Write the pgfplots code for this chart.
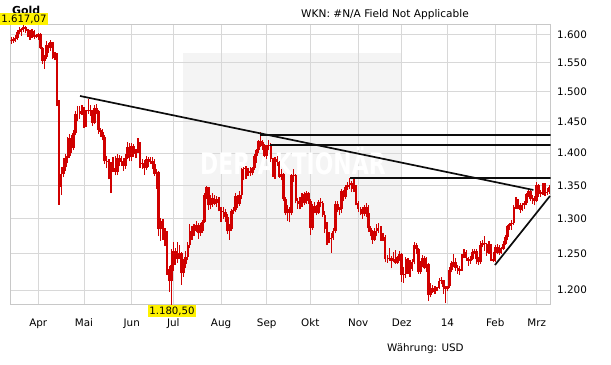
\documentclass[border=0pt]{standalone}
\usepackage{pgfplots}
\usepackage{pgfplotstable}
\pgfplotsset{compat=1.18}
\usepackage{fontspec}
\setmainfont{DejaVu Sans}
\definecolor{cred}{HTML}{D00000}
\definecolor{gridc}{HTML}{D8D8D8}
\definecolor{framec}{HTML}{C8C8C8}
\definecolor{wmbox}{HTML}{F4F4F4}
\pgfplotstableread{
i o h l c
-13 1590 1596 1583 1588
-12 1588 1596 1585 1591
-11 1591 1598 1586 1593
-10 1593 1607 1590 1604
-9 1604 1613 1600 1608
-8 1608 1612 1597 1609
-7 1609 1617.07 1605 1614
-6 1614 1615 1603 1606
-5 1606 1609 1596 1605
-4 1605 1608 1590 1596
-3 1596 1609 1594 1606
-2 1606 1607 1591 1596
-1 1596 1600 1594 1598
0 1598 1603 1590 1600
1 1600 1602 1573 1575
2 1575 1577 1548 1553
3 1553 1564 1539 1559
4 1559 1588 1557 1581
5 1581 1584 1567 1575
6 1575 1589 1570 1586
7 1586 1587 1556 1558
8 1558 1568 1555 1564
9 1564 1566 1476 1482
10 1482 1486 1321 1348
11 1348 1378 1335 1368
12 1368 1392 1362 1378
13 1378 1398 1372 1392
14 1392 1425 1384 1395
15 1395 1431 1392 1424
16 1424 1428 1400 1408
17 1408 1437 1404 1432
18 1432 1467 1428 1462
19 1462 1476 1452 1462
20 1462 1476 1455 1468
21 1468 1477 1461 1472
22 1472 1474 1440 1445
23 1445 1470 1442 1467
24 1467 1487 1463 1470
25 1470 1477 1460 1467
26 1467 1469 1443 1448
27 1448 1477 1446 1473
28 1473 1479 1462 1468
29 1468 1470 1431 1437
30 1437 1440 1426 1434
31 1434 1438 1420 1425
32 1425 1429 1383 1387
33 1387 1396 1376 1386
34 1386 1390 1359 1366
35 1366 1386 1338 1383
36 1383 1394 1370 1377
37 1377 1395 1365 1371
38 1371 1398 1366 1392
39 1392 1397 1379 1386
40 1386 1395 1380 1388
41 1388 1392 1372 1380
42 1380 1398 1375 1392
43 1392 1418 1390 1410
44 1410 1416 1387 1393
45 1393 1416 1387 1411
46 1411 1414 1394 1398
47 1398 1407 1392 1403
48 1403 1423 1400 1413
49 1413 1417 1377 1383
50 1383 1390 1375 1384
51 1384 1389 1366 1377
52 1377 1396 1374 1391
53 1391 1394 1378 1387
54 1387 1394 1383 1388
55 1388 1393 1375 1383
56 1383 1390 1364 1368
57 1368 1375 1345 1370
58 1370 1372 1275 1285
59 1285 1301 1268 1297
60 1297 1300 1270 1277
61 1277 1286 1261 1278
62 1278 1282 1221 1229
63 1229 1233 1197 1212
64 1212 1257 1180.5 1234
65 1234 1267 1226 1254
66 1254 1258 1234 1243
67 1243 1266 1237 1250
68 1250 1262 1243 1251
69 1251 1253 1207 1223
70 1223 1242 1218 1236
71 1236 1254 1230 1246
72 1246 1266 1241 1262
73 1262 1292 1258 1283
74 1283 1289 1270 1278
75 1278 1293 1275 1283
76 1283 1297 1281 1291
77 1291 1294 1271 1279
78 1279 1294 1275 1283
79 1283 1298 1280 1295
80 1295 1338 1294 1335
81 1335 1349 1330 1347
82 1347 1348 1313 1320
83 1320 1335 1314 1331
84 1331 1339 1318 1322
85 1322 1335 1320 1330
86 1330 1334 1318 1324
87 1324 1332 1311 1313
88 1313 1318 1295 1311
89 1311 1317 1300 1310
90 1310 1314 1296 1302
91 1302 1307 1278 1282
92 1282 1292 1270 1285
93 1285 1314 1283 1312
94 1312 1318 1307 1313
95 1313 1338 1310 1334
96 1334 1336 1316 1322
97 1322 1342 1319 1336
98 1336 1377 1329 1375
99 1375 1378 1358 1377
100 1377 1380 1360 1365
101 1365 1376 1364 1372
102 1372 1378 1364 1369
103 1369 1378 1365 1376
104 1376 1399 1373 1396
105 1396 1407 1385 1405
106 1405 1420 1400 1419
107 1419 1433.8 1410 1418
108 1418 1420 1405 1411
109 1411 1414 1393 1396
110 1396 1411 1390 1412
111 1412 1421 1404 1413
112 1413 1416 1386 1390
113 1390 1392 1363 1367
114 1367 1394 1360 1391
115 1391 1395 1380 1386
116 1386 1387 1361 1363
117 1363 1375 1358 1367
118 1367 1369 1326 1330
119 1330 1333 1305 1308
120 1308 1321 1297 1315
121 1315 1318 1295 1309
122 1309 1368 1305 1365
123 1365 1375 1355 1366
124 1366 1368 1323 1326
125 1326 1331 1315 1322
126 1322 1332 1314 1322
127 1322 1338 1318 1337
128 1337 1340 1320 1323
129 1323 1341 1322 1338
130 1338 1340 1322 1327
131 1327 1330 1277 1287
132 1287 1322 1284 1319
133 1319 1325 1308 1316
134 1316 1320 1305 1309
135 1309 1328 1307 1325
136 1325 1331 1317 1323
137 1323 1327 1303 1306
138 1306 1311 1280 1285
139 1285 1295 1262 1273
140 1273 1281 1265 1273
141 1273 1280 1251 1272
142 1272 1286 1270 1282
143 1282 1326 1279 1322
144 1322 1327 1310 1315
145 1315 1318 1305 1314
146 1314 1344 1308 1341
147 1341 1343 1326 1333
148 1333 1350 1330 1347
149 1347 1355 1343 1351
150 1351 1361 1345 1353
151 1353 1357 1340 1344
152 1344 1359 1340 1346
153 1346 1350 1320 1323
154 1323 1327 1310 1315
155 1315 1318 1305 1315
156 1315 1317 1300 1307
157 1307 1321 1304 1318
158 1318 1323 1302 1308
159 1308 1321 1281 1286
160 1286 1290 1275 1281
161 1281 1284 1264 1270
162 1270 1286 1268 1283
163 1283 1293 1275 1287
164 1287 1294 1280 1287
165 1287 1289 1268 1273
166 1273 1280 1268 1274
167 1274 1277 1238 1242
168 1242 1248 1237 1242
169 1242 1258 1240 1244
170 1244 1247 1230 1240
171 1240 1253 1238 1242
172 1242 1255 1236 1237
173 1237 1247 1236 1245
174 1245 1254 1240 1250
175 1250 1251 1211 1221
176 1221 1232 1210 1222
177 1222 1246 1216 1242
178 1242 1244 1222 1224
179 1224 1241 1218 1229
180 1229 1242 1226 1238
181 1238 1266 1235 1262
182 1262 1265 1250 1256
183 1256 1258 1222 1225
184 1225 1240 1222 1234
185 1234 1248 1231 1244
186 1244 1247 1228 1230
187 1230 1246 1225 1235
188 1235 1237 1185 1193
189 1193 1210 1190 1203
190 1203 1207 1196 1197
191 1197 1206 1195 1202
192 1202 1204 1199 1203
193 1203 1216 1201 1212
194 1212 1218 1208 1213
195 1213 1214 1195 1204
196 1204 1206 1182 1201
197 1201 1206 1198 1205
198 1205 1231 1203 1227
199 1227 1240 1224 1237
200 1237 1249 1231 1238
201 1238 1244 1226 1230
202 1230 1234 1222 1226
203 1226 1233 1221 1229
204 1229 1250 1226 1248
205 1248 1256 1244 1253
206 1253 1255 1240 1244
207 1244 1246 1233 1240
208 1240 1247 1236 1243
209 1243 1256 1241 1253
210 1253 1257 1249 1254
211 1254 1257 1235 1242
212 1242 1245 1234 1238
213 1238 1268 1236 1262
214 1262 1270 1259 1265
215 1265 1275 1254 1263
216 1263 1265 1247 1251
217 1251 1268 1250 1262
218 1262 1264 1240 1243
219 1243 1253 1238 1240
220 1240 1262 1239 1260
221 1260 1263 1249 1251
222 1251 1262 1248 1258
223 1258 1260 1250 1257
224 1257 1268 1255 1263
225 1263 1276 1262 1274
226 1274 1291 1269 1290
227 1290 1294 1284 1292
228 1292 1299 1284 1294
229 1294 1320 1291 1318
230 1318 1332 1315 1328
231 1328 1330 1314 1320
232 1320 1323 1309 1313
233 1313 1324 1311 1320
234 1320 1327 1315 1324
235 1324 1339 1320 1337
236 1337 1345 1333 1342
237 1342 1344 1326 1329
238 1329 1336 1322 1331
239 1331 1334 1320 1326
240 1326 1355 1325 1350
241 1350 1352 1333 1337
242 1337 1343 1333 1340
243 1340 1353 1336 1351
244 1351 1353 1334 1339
245 1339 1346 1336 1340
246 1340 1351 1337 1347
}\gold
\begin{document}
\begin{tikzpicture}[x=1bp,y=1bp]
\useasboundingbox (0,0) rectangle (611,364);
\fill[wmbox] (183,94) rectangle (401,311);
\begin{axis}[
  at={(10.3bp,59bp)}, anchor=south west,
  scale only axis, width=540.4bp, height=280bp,
  xmin=-13.48, xmax=246.74,
  ymode=log, ymin=1180.0, ymax=1617.07,
  xtick={0,22,45,65,88,110,131,154,175,197,220,240},
  xticklabels={Apr,Mai,Jun,Jul,Aug,Sep,Okt,Nov,Dez,14,Feb,Mrz},
  ytick={1200,1250,1300,1350,1400,1450,1500,1550,1600},
  yticklabels={1.200,1.250,1.300,1.350,1.400,1.450,1.500,1.550,1.600},
  yticklabel pos=right,
  major tick length=0pt,
  grid=major, grid style={draw=gridc, line width=0.9bp},
  axis line style={draw=framec, line width=0.9bp},
  tick label style={font=\fontsize{10.4}{12}\selectfont, text=black},
  xticklabel style={anchor=base, yshift=-21.6bp, inner sep=0pt},
  yticklabel style={anchor=west, xshift=6.3bp, inner sep=0pt},
  clip=true,
]
\node[text=white, font=\fontsize{22}{26}\selectfont\bfseries] at (axis cs:122.6,1387) {\scalebox{1}[1.35]{DER AKTIONÄR}};
% wicks
\addplot[draw=none, mark=none, forget plot,
  error bars/.cd, y dir=plus, y explicit, error mark=none,
  error bar style={draw=cred, line width=1.2bp}]
  table[x=i, y=l, y error plus expr=\thisrow{h}-\thisrow{l}] {\gold};
% bodies
\addplot[draw=none, mark=none, forget plot,
  error bars/.cd, y dir=plus, y explicit, error mark=none,
  error bar style={draw=cred, line width=2.6bp}]
  table[x=i, y expr={min(\thisrow{o},\thisrow{c})}, y error plus expr={abs(\thisrow{c}-\thisrow{o})}] {\gold};
% trend lines
\addplot[black!95, line width=1.7bp] coordinates {(20.1,1492.7) (238.4,1342.9)};
\addplot[black!95, line width=2.1bp] coordinates {(106.8,1428.6) (246.74,1428.6)};
\addplot[black!95, line width=2.1bp] coordinates {(111.6,1412.7) (246.74,1412.7)};
\addplot[black!95, line width=2.1bp] coordinates {(150.1,1361.2) (246.74,1361.2)};
\addplot[black!95, line width=1.7bp] coordinates {(219.9,1234.2) (246.4,1333.9)};
\end{axis}
\node[anchor=base west, inner sep=0pt, font=\fontsize{11}{13}\selectfont\bfseries] at (12,350) {Gold};
\fill[yellow] (0,339) rectangle (48,351);
\node[inner sep=0pt, font=\fontsize{10.2}{12}\selectfont] at (24,345) {1.617,07};
\fill[yellow] (148,47) rectangle (196,59);
\node[inner sep=0pt, font=\fontsize{10.2}{12}\selectfont] at (172,53) {1.180,50};
\node[anchor=base east, inner sep=0pt, font=\fontsize{10.6}{12}\selectfont] at (469,347) {WKN: \#N/A Field Not Applicable};
\node[anchor=base west, inner sep=0pt, font=\fontsize{10.4}{12}\selectfont] at (387,13) {Währung: USD};
\end{tikzpicture}
\end{document}
